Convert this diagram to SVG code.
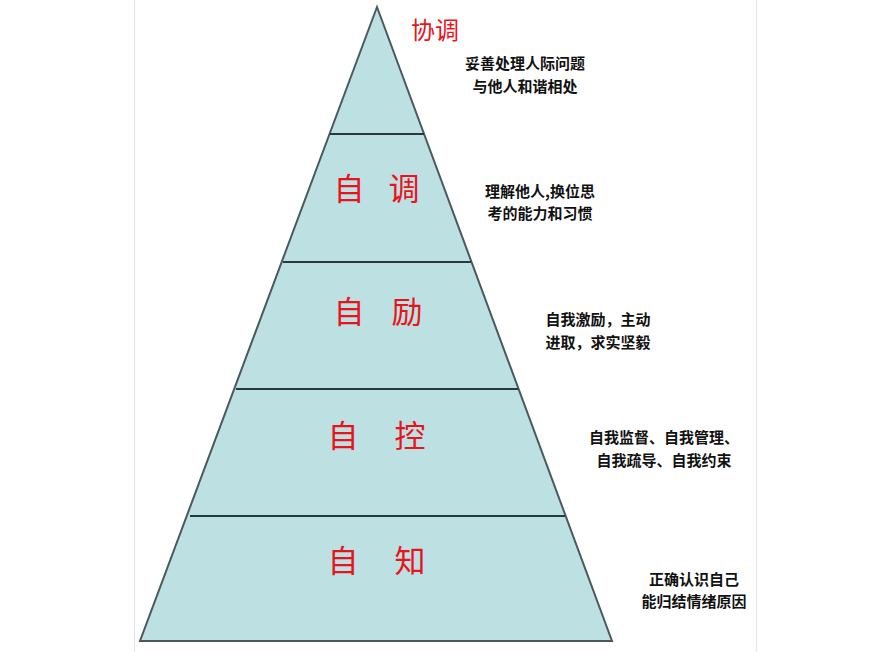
<svg xmlns="http://www.w3.org/2000/svg" width="893" height="652" viewBox="0 0 893 652">
<style>
.lvl{font-family:"Liberation Serif","Noto Sans CJK SC",serif;font-size:31px;fill:#e8141c;text-anchor:middle}
.d{font-family:"Noto Sans CJK SC",sans-serif;font-size:15px;font-weight:bold;fill:#111;text-anchor:middle}
.sep{stroke:#2a3a3a;stroke-width:2}
</style>
<rect width="893" height="652" fill="#fff"/>
<rect x="134.5" y="-1" width="622" height="660" fill="none" stroke="#e4e4e4"/>
<g id="pyramid">
<polygon points="377,7 612,641 140,641" fill="#bde0e3" stroke="#4a5a5c" stroke-width="2"/>
</g>
<g id="connectors">
<line class="sep" x1="330" y1="134" x2="424" y2="134"/>
<line class="sep" x1="283" y1="262" x2="471" y2="262"/>
<line class="sep" x1="236" y1="389" x2="518" y2="389"/>
<line class="sep" x1="190" y1="516" x2="565" y2="516"/>
</g>
<g id="n1"><text x="435" y="39" class="lvl" style="font-size:24px">协调</text>
<text class="d" x="525" y="69">妥善处理人际问题</text><text class="d" x="525" y="92">与他人和谐相处</text></g>
<g id="n2"><text x="349" y="200" class="lvl">自</text><text x="404" y="200" class="lvl">调</text>
<text class="d" x="540" y="197">理解他人,换位思</text><text class="d" x="540" y="219">考的能力和习惯</text></g>
<g id="n3"><text x="349" y="323" class="lvl">自</text><text x="407" y="323" class="lvl">励</text>
<text class="d" x="598" y="325">自我激励，主动</text><text class="d" x="598" y="348">进取，求实坚毅</text></g>
<g id="n4"><text x="343" y="447" class="lvl">自</text><text x="410" y="447" class="lvl">控</text>
<text class="d" x="664" y="443">自我监督、自我管理、</text><text class="d" x="664" y="466">自我疏导、自我约束</text></g>
<g id="n5"><text x="343" y="572" class="lvl">自</text><text x="410" y="572" class="lvl">知</text>
<text class="d" x="694" y="585">正确认识自己</text><text class="d" x="694" y="607">能归结情绪原因</text></g>
</svg>
